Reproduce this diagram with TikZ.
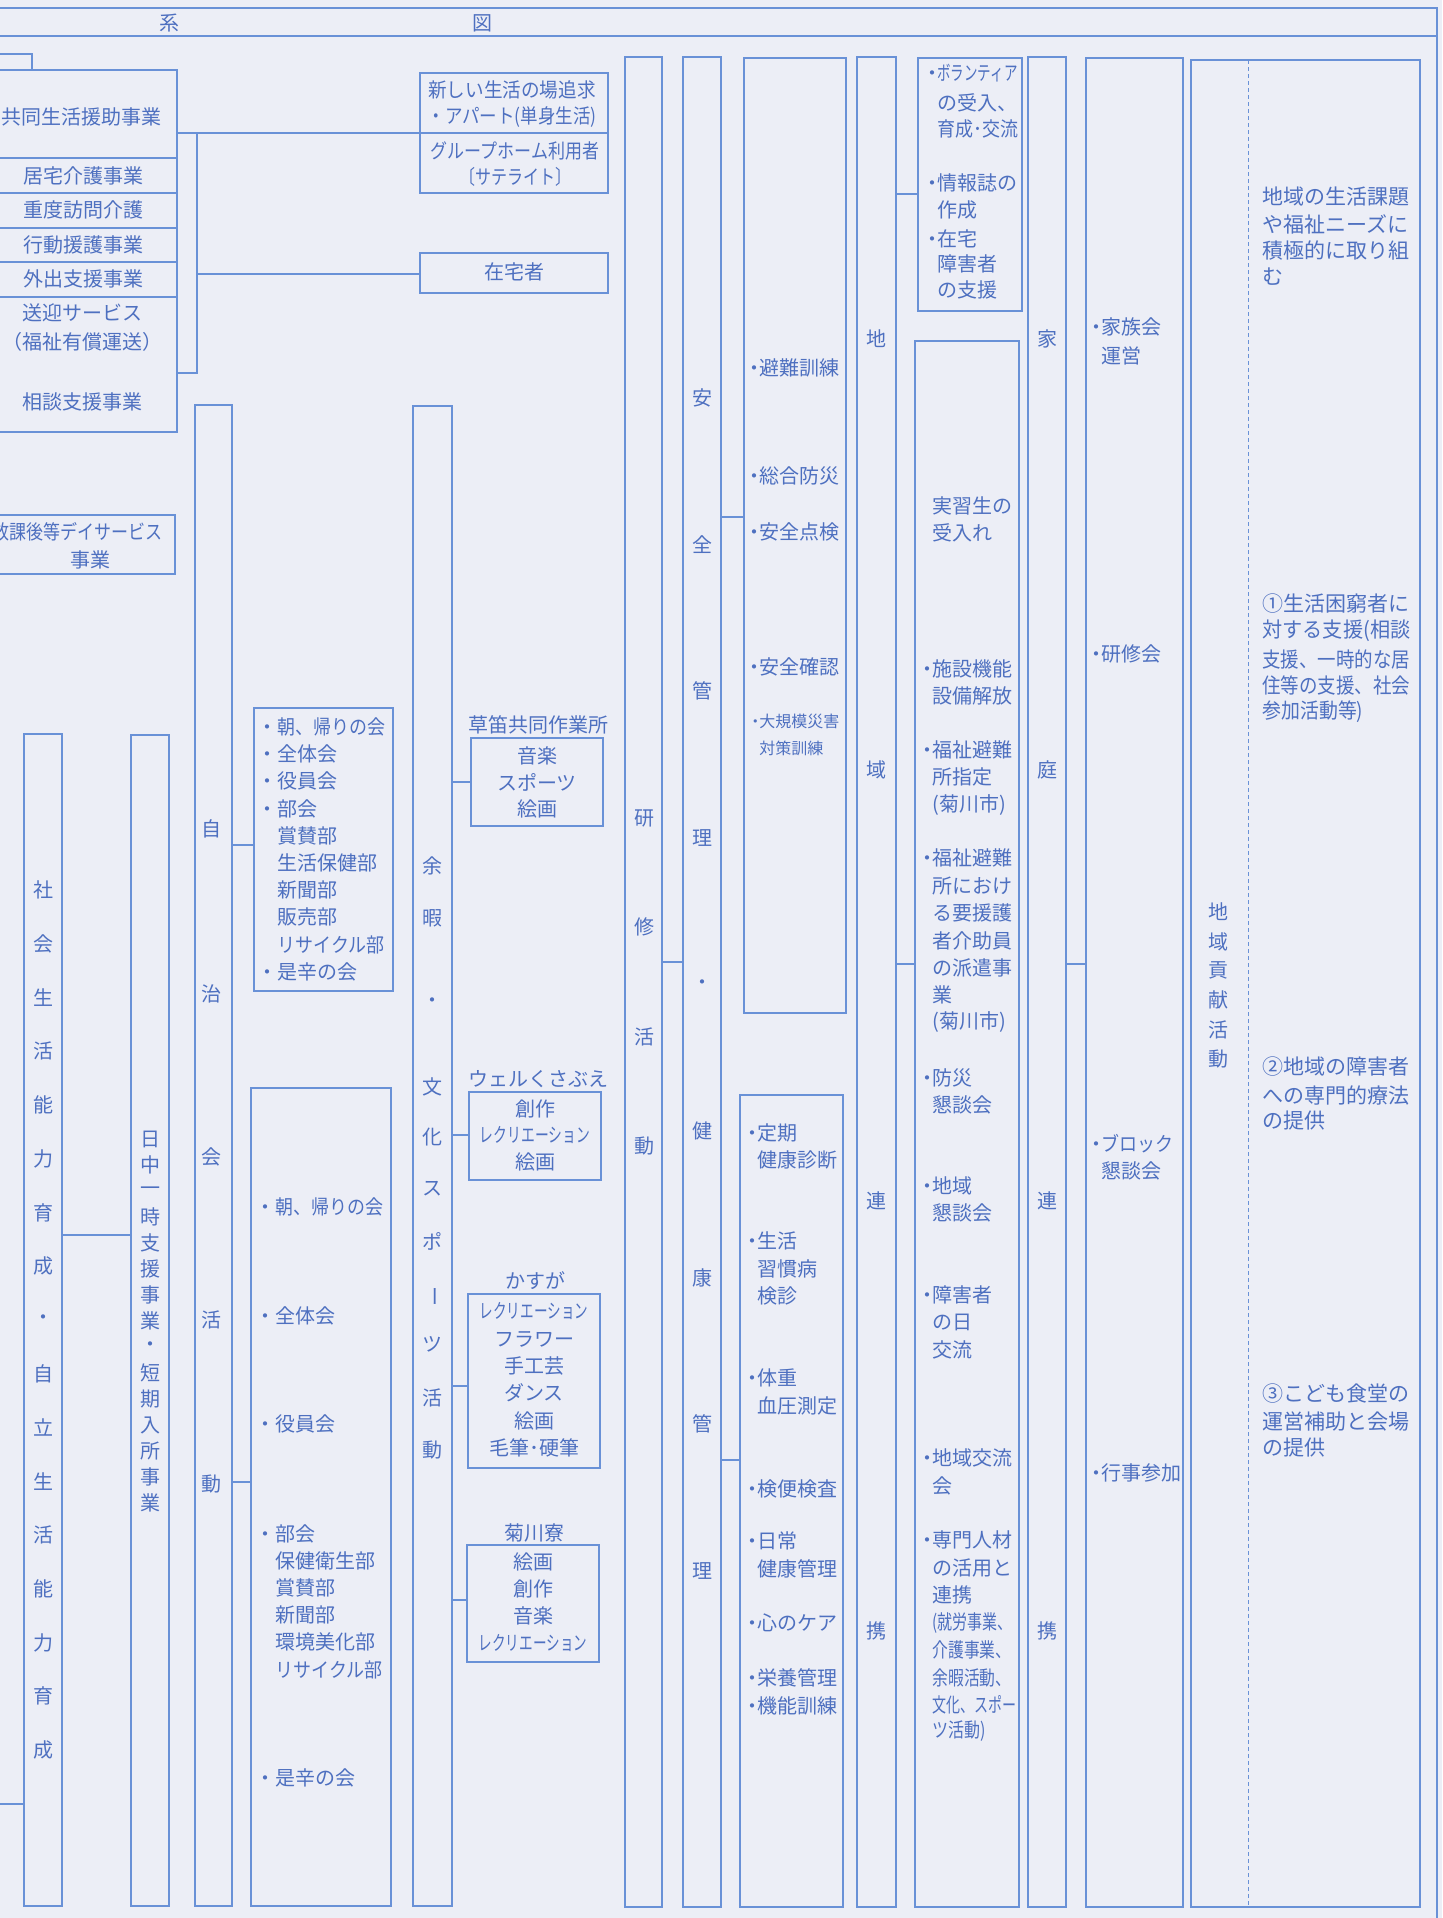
\documentclass[tikz,border=0pt]{standalone}
\usepackage{fontspec}
\usepackage{graphicx}
\setmainfont{Noto Sans CJK JP}
\newfontfamily\jp{Noto Sans CJK JP}
\usetikzlibrary{fit}
\definecolor{lc}{RGB}{105,145,215}
\definecolor{tc}{RGB}{78,112,192}
\definecolor{bg}{RGB}{236,238,246}
\newcommand{\hsq}[2]{\scalebox{#1}[1]{#2}}
\newcommand{\fdot}{\llap{・}}
\newcommand{\hdot}{\llap{\makebox[0.5em]{・}}}
\newcommand{\bx}[5]{\node[box,fit={(#2,#3)(#4,#5)}] (#1) {};}
\newcommand{\hw}[4]{\coordinate (#1) at (0,#2); \draw[wire] (#3.east |- #1) -- (#4.west |- #1);}
\begin{document}
\begin{tikzpicture}[x=0.5pt,y=-0.5pt,
  box/.style={draw=lc,line width=0.8pt,inner sep=0pt,rectangle},
  wire/.style={draw=lc,line width=0.8pt},
  tx/.style={text=tc,inner sep=0pt,font=\jp\fontsize{10pt}{12pt}\selectfont},
  tw/.style={tx,anchor=west},
  sm/.style={font=\jp\fontsize{8pt}{10pt}\selectfont},
  lg/.style={font=\jp\fontsize{10.5pt}{12pt}\selectfont}]
\fill[bg] (0,0) rectangle (1442,1918);
\useasboundingbox (0,0) rectangle (1442,1918);
% header frame
\coordinate (h0) at (0,8); \coordinate (h1) at (1437,8);
\coordinate (h2) at (0,36); \coordinate (h3) at (1437,36);
\coordinate (h4) at (1437,1918);
\draw[wire] (h0) -- (h1) -- (h4);
\draw[wire] (h2) -- (h3);
\node[tx] (kei) at (169,23) {系};
\node[tx] (zu) at (482,23) {図};
% left stack
\bx{kyodo}{-5}{70}{177}{158}
\bx{kyotaku}{-5}{158}{177}{193}
\bx{judo}{-5}{193}{177}{228}
\bx{kodo}{-5}{228}{177}{262}
\bx{gaishutsu}{-5}{262}{177}{297}
\bx{sogei}{-5}{297}{177}{432}
\coordinate (br0) at (-5,54); \coordinate (br1) at (32,54);
\draw[wire] (br0) -- (br1) -- (br1 |- kyodo.north);
\node[tx] (t1) at (82,117) {共同生活援助事業};
\node[tx] (t2) at (84,176) {居宅介護事業};
\node[tx] (t3) at (84,210) {重度訪問介護};
\node[tx] (t4) at (84,245) {行動援護事業};
\node[tx] (t5) at (84,279) {外出支援事業};
\node[tx] (t6) at (83,313) {送迎サービス};
\node[tx] (t7) at (83,342) {（福祉有償運送）};
\node[tx] (t8) at (83,402) {相談支援事業};
\bx{atara}{420}{73}{608}{133}
\bx{grp}{420}{133}{608}{193}
\bx{zaitaku}{420}{253}{608}{293}
\node[tx] (t11) at (512,90) {\hsq{0.93}{新しい生活の場追求}};
\node[tx] (t12) at (512,117) {\hsq{0.875}{・アパート(単身生活)}};
\node[tx] (t13) at (515,151) {\hsq{0.85}{グループホーム利用者}};
\node[tx] (t14) at (515,177) {\hsq{0.8}{〔サテライト〕}};
\node[tx] (t15) at (514,272) {在宅者};
\hw{c1}{133}{kyodo}{atara}
\coordinate (c15) at (197,274);
\draw[wire] (c15) -- (zaitaku.west |- c15);
\coordinate (c16) at (197,373);
\draw[wire] (sogei.east |- c16) -- (c16) -- (c16 |- c1);
\bx{houkago}{-5}{515}{175}{574}
\node[tx,anchor=east] (t9) at (163,532) {\hsq{0.85}{放課後等デイサービス}};
\node[tx] (t10) at (90,560) {事業};
% vertical columns left
\bx{shakai}{24}{734}{62}{1906}
\bx{nicchu}{131}{735}{169}{1906}
\hw{c2}{1235}{shakai}{nicchu}
\coordinate (c17) at (-5,1804);
\draw[wire] (c17) -- (shakai.west |- c17);
\foreach \c [count=\i] in {社,会,生,活,能,力,育,成,・,自,立,生,活,能,力,育,成}
  \node[tx] (sk\i) at (43,{890+(\i-1)*53.75}) {\c};
\foreach \c [count=\i] in {日,中,一,時,支,援,事,業,・,短,期,入,所,事,業}
  \node[tx] (nc\i) at (150,{1139+(\i-1)*26}) {\c};
\bx{jichi}{195}{405}{232}{1906}
\foreach \c/\y [count=\i] in {自/829,治/994,会/1157,活/1320,動/1484}
  \node[tx] (jc\i) at (211,\y) {\c};
\bx{boxa}{254}{708}{393}{991}
\bx{boxb}{251}{1088}{391}{1906}
\hw{c3}{845}{jichi}{boxa}
\hw{c4}{1482}{jichi}{boxb}
\foreach \s [count=\i] in {{\fdot\hsq{0.9}{朝、帰りの会}},{\fdot 全体会},{\fdot 役員会},{\fdot 部会},賞賛部,生活保健部,新聞部,販売部,{\hsq{0.9}{リサイクル部}},{\fdot 是辛の会}}
  \node[tw] (ba\i) at (277,{727+(\i-1)*27.2}) {\s};
\foreach \s/\y [count=\i] in {{\fdot\hsq{0.9}{朝、帰りの会}}/1207,{\fdot 全体会}/1316,{\fdot 役員会}/1424,{\fdot 部会}/1534,保健衛生部/1561,賞賛部/1588,新聞部/1615,環境美化部/1642,{\hsq{0.9}{リサイクル部}}/1670,{\fdot 是辛の会}/1778}
  \node[tw] (bb\i) at (275,\y) {\s};
\bx{yoka}{413}{406}{452}{1906}
\foreach \c/\y [count=\i] in {余/866,暇/918,・/1003,文/1087,化/1137,ス/1189,ポ/1241,{\rotatebox{-90}{ー}}/1296,ツ/1344,活/1398,動/1450}
  \node[tx] (yk\i) at (432,\y) {\c};
\bx{kusa}{471}{738}{603}{826}
\bx{well}{469}{1092}{601}{1180}
\bx{kasu}{468}{1294}{600}{1468}
\bx{kiku}{467}{1545}{599}{1662}
\hw{c5}{782}{yoka}{kusa}
\hw{c6}{1135}{yoka}{well}
\hw{c7}{1386}{yoka}{kasu}
\hw{c8}{1600}{yoka}{kiku}
\node[tx] (l1) at (538,725) {草笛共同作業所};
\foreach \s/\y [count=\i] in {音楽/756,スポーツ/782,絵画/809}
  \node[tx] (ku\i) at (537,\y) {\s};
\node[tx] (l2) at (538,1079) {ウェルくさぶえ};
\foreach \s/\y [count=\i] in {創作/1109,{\hsq{0.69}{レクリエーション}}/1135,絵画/1162}
  \node[tx] (we\i) at (535,\y) {\s};
\node[tx] (l3) at (535,1281) {かすが};
\foreach \s/\y [count=\i] in {{\hsq{0.68}{レクリエーション}}/1311,フラワー/1339,手工芸/1366,ダンス/1393,絵画/1421,毛筆･硬筆/1448}
  \node[tx] (ka\i) at (534,\y) {\s};
\node[tx] (l4) at (534,1533) {菊川寮};
\foreach \s/\y [count=\i] in {絵画/1562,創作/1589,音楽/1616,{\hsq{0.68}{レクリエーション}}/1643}
  \node[tx] (ki\i) at (533,\y) {\s};
% right columns
\bx{kenshu}{625}{57}{662}{1907}
\bx{anzen}{683}{57}{721}{1907}
\bx{safety}{744}{58}{846}{1013}
\bx{health}{740}{1095}{843}{1907}
\bx{chiiki}{857}{57}{896}{1907}
\bx{vol}{918}{58}{1022}{311}
\bx{jisshu}{915}{341}{1019}{1907}
\bx{katei}{1028}{57}{1066}{1907}
\bx{kazoku}{1086}{58}{1183}{1907}
\bx{koken}{1191}{60}{1420}{1907}
\coordinate (d0) at (1248,60); \coordinate (d1) at (1248,1907);
\draw[lc,line width=0.5pt,dash pattern=on 2pt off 1.5pt] (d0) -- (d1);
\hw{c9}{962}{kenshu}{anzen}
\hw{c10}{517}{anzen}{safety}
\hw{c11}{1460}{anzen}{health}
\hw{c12}{194}{chiiki}{vol}
\hw{c13}{964}{chiiki}{jisshu}
\hw{c14}{964}{katei}{kazoku}
\foreach \c/\y [count=\i] in {研/818,修/927,活/1037,動/1146}
  \node[tx] (ks\i) at (644,\y) {\c};
\foreach \c [count=\i] in {安,全,管,理,・,健,康,管,理}
  \node[tx] (az\i) at (702,{398+(\i-1)*146.6}) {\c};
\foreach \c [count=\i] in {地,域,連,携}
  \node[tx] (ch\i) at (876,{339+(\i-1)*430.7}) {\c};
\foreach \c [count=\i] in {家,庭,連,携}
  \node[tx] (kt\i) at (1047,{339+(\i-1)*430.7}) {\c};
\foreach \c [count=\i] in {地,域,貢,献,活,動}
  \node[tx] (kk\i) at (1218,{912+(\i-1)*29.4}) {\c};
\foreach \s/\y [count=\i] in {{\hdot 避難訓練}/368,{\hdot 総合防災}/476,{\hdot 安全点検}/532,{\hdot 安全確認}/667}
  \node[tw] (sf\i) at (759,\y) {\s};
\node[tw,sm] (sf5) at (759,721) {\hdot 大規模災害};
\node[tw,sm] (sf6) at (759,748) {対策訓練};
\foreach \s/\y [count=\i] in {{\hdot 定期}/1133,健康診断/1160,{\hdot 生活}/1241,習慣病/1269,検診/1296,{\hdot 体重}/1378,血圧測定/1406,{\hdot 検便検査}/1489,{\hdot 日常}/1541,健康管理/1569,{\hdot 心のケア}/1623,{\hdot 栄養管理}/1678,{\hdot 機能訓練}/1706}
  \node[tw] (he\i) at (757,\y) {\s};
\foreach \s/\y [count=\i] in {{\hdot\hsq{0.675}{ボランティア}}/73,の受入、/103,{\hsq{0.9}{育成･交流}}/129,{\hdot 情報誌の}/183,作成/210,{\hdot 在宅}/239,障害者/264,の支援/290}
  \node[tw] (vo\i) at (937,\y) {\s};
\foreach \s/\y [count=\i] in {実習生の/506,受入れ/533,{\hdot 施設機能}/669,設備解放/696,{\hdot 福祉避難}/750,所指定/777,(菊川市)/805,{\hdot 福祉避難}/858,所におけ/886,る要援護/913,者介助員/941,の派遣事/968,業/995,(菊川市)/1022,{\hdot 防災}/1078,懇談会/1105,{\hdot 地域}/1186,懇談会/1213,{\hdot 障害者}/1295,の日/1322,交流/1350,{\hdot 地域交流}/1458,会/1486,{\hdot 専門人材}/1540,の活用と/1568,連携/1595,{\hsq{0.75}{(就労事業、}}/1623,{\hsq{0.79}{介護事業、}}/1650,{\hsq{0.79}{余暇活動、}}/1678,{\hsq{0.7}{文化、スポー}}/1705,{\hsq{0.8}{ツ活動)}}/1731}
  \node[tw] (js\i) at (932,\y) {\s};
\foreach \s/\y [count=\i] in {{\hdot 家族会}/327,運営/356,{\hdot 研修会}/654,{\hdot\hsq{0.9}{ブロック}}/1144,懇談会/1171,{\hdot 行事参加}/1473}
  \node[tw] (kz\i) at (1101,\y) {\s};
\foreach \s/\y [count=\i] in {地域の生活課題/197,や福祉ニーズに/224,積極的に取り組/251,む/277,①生活困窮者に/604,{\hsq{0.96}{対する支援(相談}}/631,{\hsq{0.88}{支援、一時的な居}}/659,{\hsq{0.88}{住等の支援、社会}}/685,{\hsq{0.9}{参加活動等)}}/712,②地域の障害者/1067,への専門的療法/1095,の提供/1121,③こども食堂の/1393,運営補助と会場/1422,の提供/1448}
  \node[tw,lg] (kn\i) at (1262,\y) {\s};
\end{tikzpicture}
\end{document}
